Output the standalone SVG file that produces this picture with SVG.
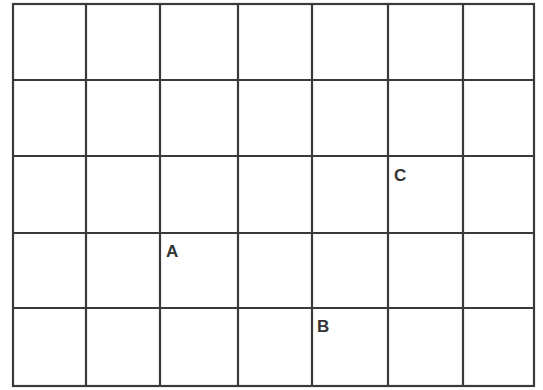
<svg xmlns="http://www.w3.org/2000/svg" width="543" height="390" viewBox="0 0 543 390">
<style>
.g{stroke:#3a3a3a;stroke-width:2.2;fill:none}
.t{font-family:"Liberation Sans",Arial,sans-serif;font-size:17px;font-weight:bold;fill:#333333}
</style>
<rect width="543" height="390" fill="#ffffff"/>
<g id="grid" class="g">
<rect x="13" y="4" width="521" height="382"/>
<line x1="86" y1="4" x2="86" y2="386"/>
<line x1="160" y1="4" x2="160" y2="386"/>
<line x1="238" y1="4" x2="238" y2="386"/>
<line x1="312" y1="4" x2="312" y2="386"/>
<line x1="388" y1="4" x2="388" y2="386"/>
<line x1="463" y1="4" x2="463" y2="386"/>
<line x1="13" y1="80" x2="534" y2="80"/>
<line x1="13" y1="156" x2="534" y2="156"/>
<line x1="13" y1="233" x2="534" y2="233"/>
<line x1="13" y1="308" x2="534" y2="308"/>
</g>
<g id="A"><text class="t" x="166" y="257">A</text></g>
<g id="B"><text class="t" x="317" y="332">B</text></g>
<g id="C"><text class="t" x="394" y="181">C</text></g>
</svg>
